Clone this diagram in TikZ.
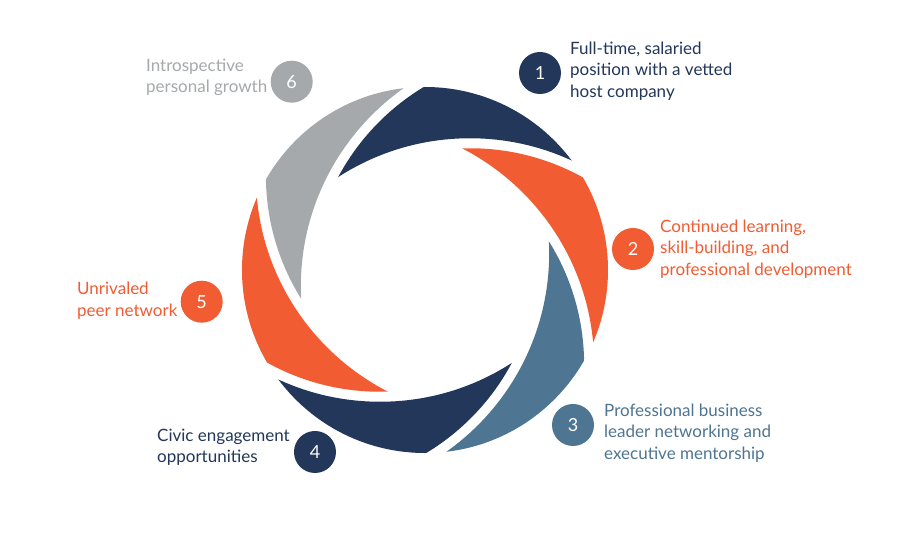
\documentclass[tikz,border=0pt]{standalone}
\usepackage{fontspec}
\setmainfont{Lato}
\definecolor{navy}{RGB}{34,55,90}
\definecolor{orng}{RGB}{241,92,50}
\definecolor{steel}{RGB}{78,117,145}
\definecolor{grayb}{RGB}{166,169,171}
\begin{document}
\begin{tikzpicture}[x=1pt,y=1pt,
  numc/.style={circle,minimum size=42pt,inner sep=0pt,text=white,font=\fontsize{18}{20}\selectfont},
  lbl/.style={anchor=west,align=left,inner sep=0pt,font=\fontsize{17}{21.5}\selectfont}]
\useasboundingbox (-425,-270) rectangle (475,270);
\fill[white] (-425,-270) rectangle (475,270);
% blades
\foreach \k/\col in {1/navy,2/orng,3/steel,4/navy,5/orng,6/grayb}{
  \pgfmathsetmacro\ph{-68-60*(\k-1)}
  \begin{scope}[even odd rule]
    \clip (\ph+60:120pt) circle (233pt);
    \clip (-1000,-1000) -- (-1000,1000) -- (1000,1000) -- (1000,-1000) -- cycle (\ph:120pt) circle (243pt);
    \fill[\col] (0,0) circle (183pt);
  \end{scope}
}
% number circles
\node[numc,fill=navy]  (n1) at (115,197) {1};
\node[numc,fill=orng]  (n2) at (208,21) {2};
\node[numc,fill=steel] (n3) at (148,-155) {3};
\node[numc,fill=navy]  (n4) at (-110,-182) {4};
\node[numc,fill=orng]  (n5) at (-223.3,-31.7) {5};
\node[numc,fill=grayb] (n6) at (-133.3,188.3) {6};
% labels
\node[lbl,text=navy]  (t1) at (145,199) {Full-time, salaried\\position with a vetted\\host company};
\node[lbl,text=orng]  (t2) at (235,21) {Continued learning,\\skill-building, and\\professional development};
\node[lbl,text=steel] (t3) at (179,-163) {Professional business\\leader networking and\\executive mentorship};
\node[lbl,text=navy]  (t4) at (-268,-177.5) {Civic engagement\\opportunities};
\node[lbl,text=orng]  (t5) at (-348,-30.5) {Unrivaled\\peer network};
\node[lbl,text=grayb] (t6) at (-279,192.5) {Introspective\\personal growth};
\end{tikzpicture}
\end{document}
